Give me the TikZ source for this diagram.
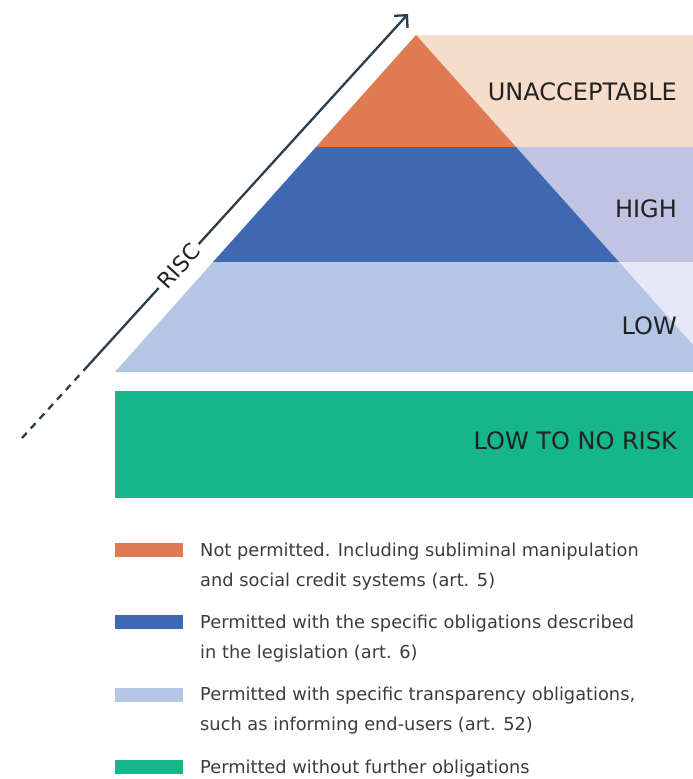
\documentclass[tikz,border=0pt]{standalone}
\usepackage{fontspec}
\setmainfont{DejaVu Sans}
\usetikzlibrary{arrows.meta}
\definecolor{unaccol}{HTML}{DF7A52}
\definecolor{unacback}{HTML}{F5DCCB}
\definecolor{highcol}{HTML}{3E69B2}
\definecolor{highback}{HTML}{C0C4E2}
\definecolor{lowcol}{HTML}{B4C6E4}
\definecolor{lowback}{HTML}{E6E9F5}
\definecolor{norisk}{HTML}{16B68A}
\definecolor{riskcol}{HTML}{2B3E4F}
\definecolor{labeltext}{HTML}{222222}
\definecolor{legendtext}{HTML}{3C3C3C}

\begin{document}
\begin{tikzpicture}[x=1pt,y=-1pt,
    bandlabel/.style={font=\fontsize{24}{26}\selectfont,text=labeltext,anchor=base east,inner sep=0pt},
    legtext/.style={font=\fontsize{17.8}{30}\selectfont,text=legendtext,anchor=base west,align=left,inner sep=0pt},
    swatch/.style={minimum width=68pt,minimum height=14pt,inner sep=0pt,anchor=north west},
    riskline/.style={draw=riskcol,line width=2.3pt}]
        \useasboundingbox(0,0)rectangle(693,779);
        % backgrounds right of the pyramid
        \fill[unacback](416,35)rectangle(693,147);
        \fill[highback](516,147)rectangle(693,262);
        \fill[lowback](619,262)rectangle(693,372);
        % pyramid bands
        \fill[unaccol](416,35)--(516,147)--(316,147)--cycle;
        \fill[highcol](316,147)--(516,147)--(619,262)--(213,262)--cycle;
        \fill[lowcol](213,262)--(619,262)--(693,345)--(693,372)--(115,372)--cycle;
        \fill[norisk](115,391)rectangle(693,498);
        % band labels
        \node[bandlabel](unac)at(677,100){UNACCEPTABLE};
        \node[bandlabel](high)at(677,217){HIGH};
        \node[bandlabel](low)at(677,334){LOW};
        \node[bandlabel](none)at(677,449){LOW TO NO RISK};
        % risk axis
        \coordinate(riskstart)at(22,438);
        \coordinate(riskmid)at(85,369);
        \coordinate(riskend)at(408,14);
        \draw[riskline,dash pattern=on 7pt off 6pt](riskstart)--(riskmid);
        \draw[riskline,-{Straight Barb[length=9pt,width=18pt]}](riskmid)--(riskend)
            node[pos=0.29,sloped,fill=white,inner sep=4pt,text=labeltext,font=\fontsize{22}{24}\selectfont](risc){RISC};
        % legend (base is the last line)
        \node[swatch,fill=unaccol](legunac)at(115,543){};
        \node[legtext](txtunac)at(200,586){Not permitted. Including subliminal manipulation\\and social credit systems (art. 5)};
        \node[swatch,fill=highcol](leghigh)at(115,615){};
        \node[legtext](txthigh)at(200,658){Permitted with the specific obligations described\\in the legislation (art. 6)};
        \node[swatch,fill=lowcol](leglow)at(115,688){};
        \node[legtext](txtlow)at(200,730){Permitted with specific transparency obligations,\\such as informing end-users (art. 52)};
        \node[swatch,fill=norisk](legnone)at(115,760){};
        \node[legtext](txtnone)at(200,773){Permitted without further obligations};
    \end{tikzpicture}
\end{document}
